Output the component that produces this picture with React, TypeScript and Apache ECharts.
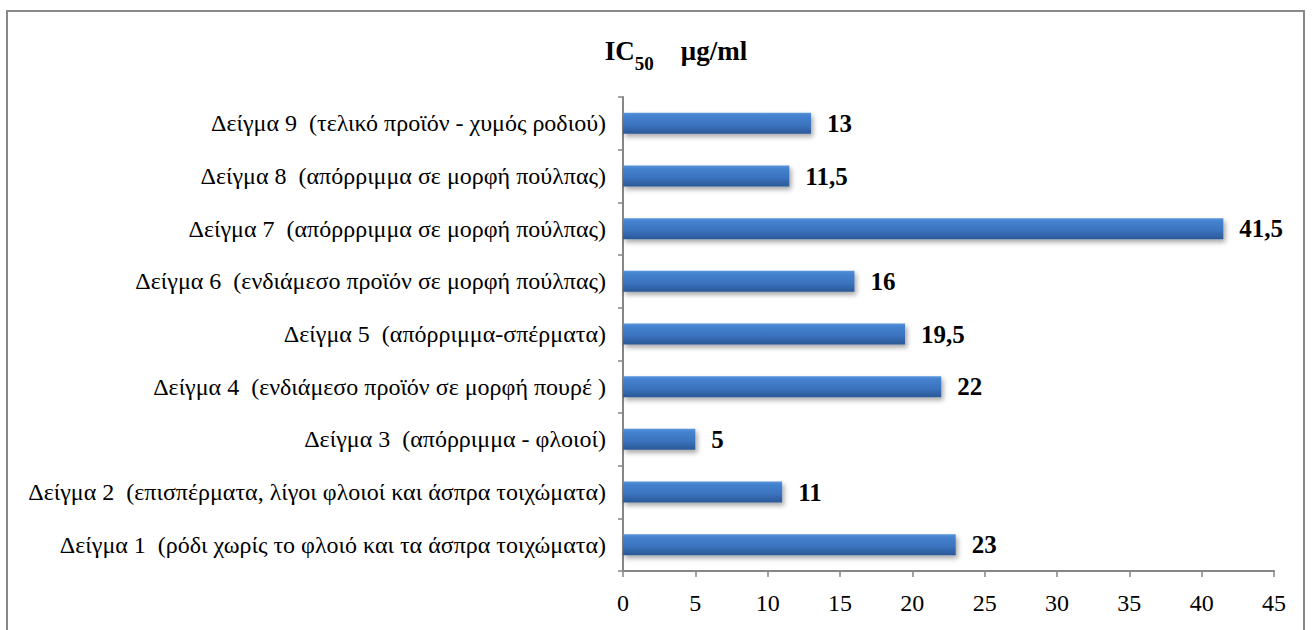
import React, { useEffect, useRef } from "react";
import * as echarts from "echarts";

const categories: string[] = [
  "Δείγμα 1  (ρόδι χωρίς το φλοιό και τα άσπρα τοιχώματα)",
  "Δείγμα 2  (επισπέρματα, λίγοι φλοιοί και άσπρα τοιχώματα)",
  "Δείγμα 3  (απόρριμμα - φλοιοί)",
  "Δείγμα 4  (ενδιάμεσο προϊόν σε μορφή πουρέ )",
  "Δείγμα 5  (απόρριμμα-σπέρματα)",
  "Δείγμα 6  (ενδιάμεσο προϊόν σε μορφή πούλπας)",
  "Δείγμα 7  (απόρρριμμα σε μορφή πούλπας)",
  "Δείγμα 8  (απόρριμμα σε μορφή πούλπας)",
  "Δείγμα 9  (τελικό προϊόν - χυμός ροδιού)",
];
const ic50Values: number[] = [23, 11, 5, 22, 19.5, 16, 41.5, 11.5, 13];
const xMin = 0;
const xMax = 45;
const xInterval = 5;

const SERIF = "Liberation Serif";
const AXIS_GRAY = "#868686";

export default function App() {
  const ref = useRef<HTMLDivElement>(null);
  useEffect(() => {
    if (!ref.current) return;
    const chart = echarts.init(ref.current, null, { renderer: "svg" });
    chart.setOption({
      animation: false,
      backgroundColor: "#ffffff",
      textStyle: { fontFamily: SERIF },
      title: {
        text: "{a|IC}{b|50}{a|    μg/ml}",
        left: 671,
        top: 32,
        textAlign: "center",
        textStyle: {
          fontFamily: SERIF,
          rich: {
            a: {
              fontFamily: SERIF,
              fontWeight: "bold",
              fontSize: 27,
              color: "#000",
              lineHeight: 34,
              verticalAlign: "top",
            },
            b: {
              fontFamily: SERIF,
              fontWeight: "bold",
              fontSize: 19,
              color: "#000",
              lineHeight: 34,
              verticalAlign: "bottom",
              padding: [0, 0, -2, 0],
            },
          },
        },
      },
      graphic: [
        {
          type: "rect",
          shape: { x: 7, y: 11, width: 1297, height: 640 },
          style: { fill: "none", stroke: "#888888", lineWidth: 2 },
          silent: true,
          z: 100,
        },
      ],
      grid: { left: 623, right: 38, top: 97, bottom: 59, containLabel: false },
      xAxis: {
        type: "value",
        min: xMin,
        max: xMax,
        interval: xInterval,
        axisLine: { show: true, lineStyle: { color: AXIS_GRAY, width: 2 } },
        axisTick: { show: true, length: 6, lineStyle: { color: AXIS_GRAY, width: 1.5 } },
        splitLine: { show: false },
        axisLabel: {
          fontFamily: SERIF,
          fontSize: 24,
          color: "#000",
          margin: 20,
        },
      },
      yAxis: {
        type: "category",
        data: categories,
        axisLine: { show: true, lineStyle: { color: AXIS_GRAY, width: 2 } },
        axisTick: { show: true, length: 5, lineStyle: { color: AXIS_GRAY, width: 1.5 } },
        axisLabel: {
          fontFamily: SERIF,
          fontSize: 24,
          color: "#000",
          margin: 17,
        },
      },
      series: [
        {
          type: "bar",
          data: ic50Values,
          barWidth: 21,
          itemStyle: {
            color: new echarts.graphic.LinearGradient(0, 0, 0, 1, [
              { offset: 0, color: "#5a93dc" },
              { offset: 0.15, color: "#4482cf" },
              { offset: 0.6, color: "#3a72bd" },
              { offset: 1, color: "#2b5896" },
            ]),
            shadowColor: "rgba(0,0,0,0.35)",
            shadowBlur: 5,
            shadowOffsetX: 2,
            shadowOffsetY: 3,
          },
          label: {
            show: true,
            position: "right",
            distance: 16,
            fontFamily: SERIF,
            fontWeight: "bold",
            fontSize: 25,
            color: "#000",
            formatter: (p: any) => String(p.value).replace(".", ","),
          },
        },
      ],
    });
    return () => chart.dispose();
  }, []);
  return (
    <div
      ref={ref}
      style={{ position: "fixed", left: 0, top: 0, width: 1312, height: 630 }}
    />
  );
}
